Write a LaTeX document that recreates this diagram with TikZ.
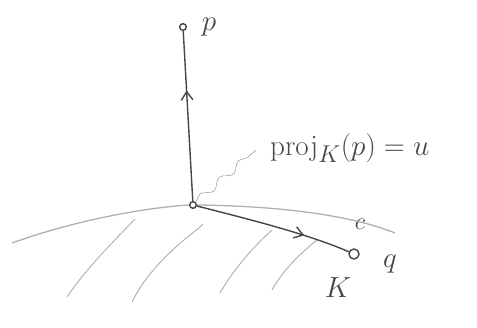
\documentclass[tikz,border=0pt]{standalone}
\usepackage{amsmath}
\usepackage{tikz}
\usetikzlibrary{arrows.meta,decorations.markings,decorations.pathmorphing}
\definecolor{pencil}{RGB}{70,70,70}
\definecolor{lightpencil}{RGB}{175,175,175}

\begin{document}
\begin{tikzpicture}[
 x=0.03cm,y=-0.03cm,
 pt/.style={circle,draw=pencil,line width=1.2pt,inner sep=0pt,minimum size=2mm},
 ptbig/.style={circle,draw=pencil,line width=1.2pt,inner sep=0pt,minimum size=3mm},
 ray/.style={pencil,line width=1.2pt,postaction={decorate},
   decoration={markings,mark=at position #1 with {\arrow{Straight Barb[length=2.5mm,width=3.5mm]}}}},
 bound/.style={lightpencil,line width=1.1pt},
 hatch/.style={lightpencil,line width=0.8pt},
 lbl/.style={pencil,font=\fontsize{30}{36}\selectfont}
]
\useasboundingbox (0,0) rectangle (477,327);
% points
\node[pt] (p) at (183,27) {};
\node[pt] (u) at (193,205) {};
\node[ptbig] (q) at (354,254) {};
\node[lbl] (plbl) at (209,27) {$p$};
\node[lbl] (qlbl) at (390,264) {$q$};
\node[lbl] (klbl) at (338,288) {$K$};
\node[lbl,font=\huge] (clbl) at (360,224) {$c$};
\node[lbl,anchor=west] (proj) at (266,148) {$\mathrm{proj}_K(p) = u$};
% boundary of K
\coordinate (bl) at (12,243);
\coordinate (br) at (395,233);
\draw[bound] (bl) .. controls (70,222) and (140,208) .. (u.west);
\draw[bound] (u.east) .. controls (280,206) and (350,215) .. (br);
% hatching
\draw[hatch] (135,219) .. controls (110,245) and (85,270) .. (67,297);
\draw[hatch] (203,224) -- (199,228) .. controls (170,250) and (145,275) .. (132,302);
\draw[hatch] (272,230) .. controls (250,250) and (232,272) .. (220,293);
\draw[hatch] (317,240) .. controls (298,255) and (282,272) .. (272,290);
% leader
\coordinate (lead) at (256,150);
\draw[lightpencil!70!pencil,thin,decorate,decoration={snake,amplitude=3pt,segment length=22pt}] (u.north east) -- (lead);
% rays
\draw[ray=0.65] (u) -- (p);
\draw[ray=0.7] (u) .. controls (260,222) and (310,235) .. (q);
\end{tikzpicture}
\end{document}
